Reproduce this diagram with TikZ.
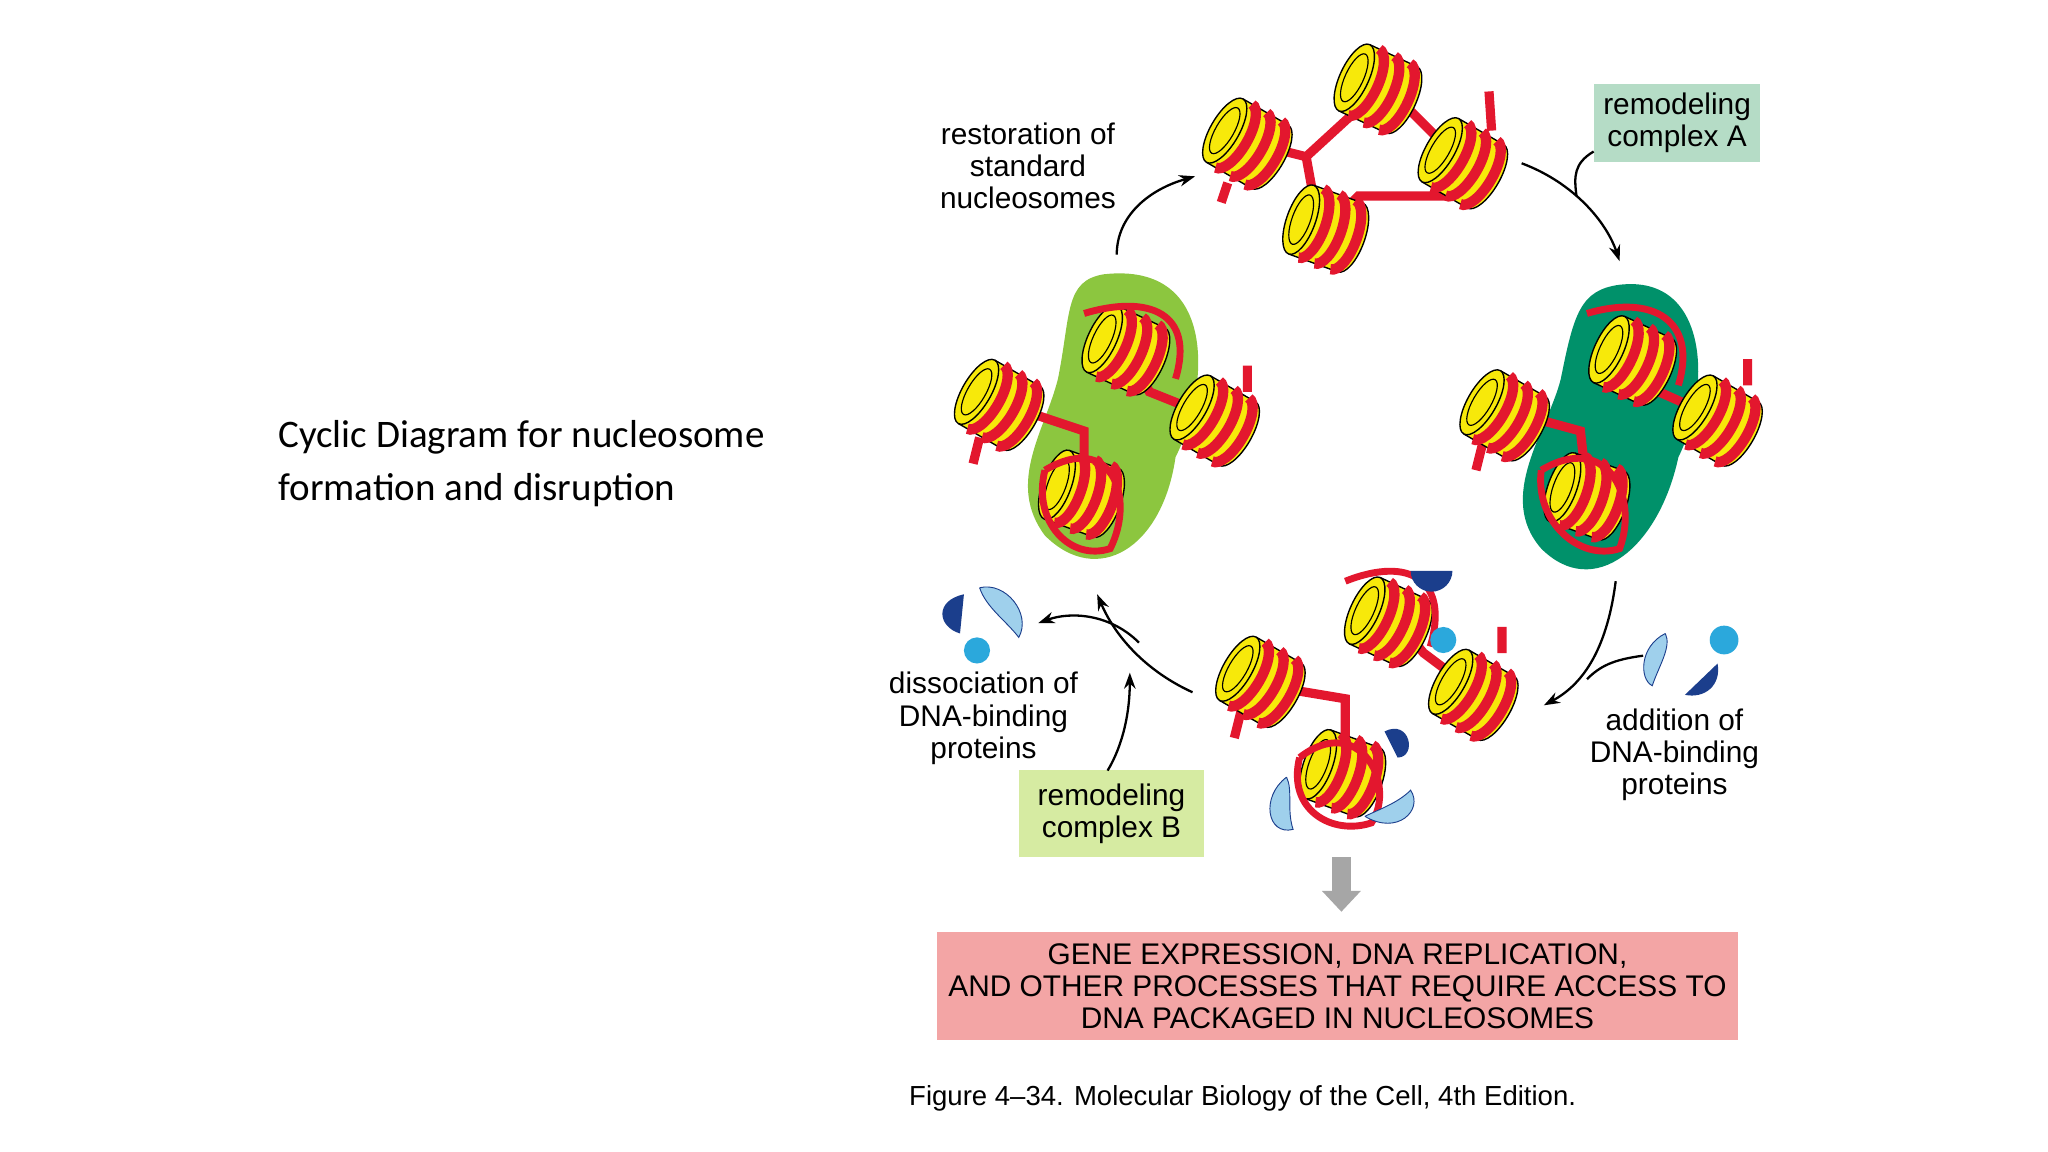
\documentclass[tikz,border=0pt]{standalone}
\usepackage{fontspec}
\setmainfont{Liberation Sans}
\newfontfamily\calib{Carlito}
\usetikzlibrary{arrows.meta}
\definecolor{nucY}{HTML}{F7E90A}
\definecolor{dnaR}{HTML}{E3172E}
\definecolor{lgreen}{HTML}{8CC63F}
\definecolor{dgreen}{HTML}{00916A}
\definecolor{boxA}{HTML}{B5DCC6}
\definecolor{boxB}{HTML}{D6EBA2}
\definecolor{boxP}{HTML}{F3A5A5}
\definecolor{pdark}{HTML}{1B3E8C}
\definecolor{plight}{HTML}{9FD0EC}
\definecolor{pmid}{HTML}{2BA8DC}
\tikzset{
  lbl/.style={align=center,font=\fontsize{13}{14}\selectfont,inner sep=1pt},
  cyc/.style={-{Stealth[length=7pt,width=5pt]},line width=1pt},
  dna/.style={draw=dnaR,line width=4pt},
  nuc/.pic={
    \fill[nucY,draw=black,line width=0.6pt] (20,0) ellipse[x radius=11,y radius=28];
    \fill[nucY] (-20,-28) rectangle (20,28);
    \draw[line width=0.6pt] (-20,28)--(20,28) (-20,-28)--(20,-28);
    \fill[nucY,draw=black,line width=0.6pt] (-20,0) ellipse[x radius=11,y radius=28];
    \draw[line width=0.5pt] (-20,0) ellipse[x radius=7,y radius=20];
    \foreach \x in {-12,1,14}{\draw[dna,line width=4.5pt] (\x,28) arc[start angle=90,end angle=-90,x radius=11,y radius=28];}
  }
}
\begin{document}
\begin{tikzpicture}[x=0.02cm,y=-0.02cm]
\useasboundingbox (0,0) rectangle (1568,882);
\fill[white] (0,0) rectangle (1568,882);
\node[anchor=west,align=left,font=\calib\fontsize{17}{23}\selectfont] (title) at (207,355) {Cyclic Diagram for nucleosome\\formation and disruption};
% blobs
\fill[lgreen] (845,210) .. controls (935,200) and (925,300) .. (900,350) .. controls (890,420) and (840,450) .. (800,410) .. controls (770,370) and (800,330) .. (810,290) .. controls (820,240) and (815,215) .. (845,210);
\fill[dgreen] (1240,218) .. controls (1310,210) and (1310,300) .. (1285,350) .. controls (1270,420) and (1220,460) .. (1180,420) .. controls (1145,380) and (1185,330) .. (1195,290) .. controls (1205,240) and (1210,222) .. (1240,218);
% linker DNA
\draw[dna] (1010,175)--(1000,120)--(1060,65) (1000,120)--(960,110) (1060,65)--(1090,95)--(1120,125) (1015,175)--(1040,150)--(1110,150) (935,155)--(940,140) (1140,70)--(1142,100);
\draw[dna] (770,310)--(830,330)--(830,380) (860,260)--(880,300)--(930,320) (745,355)--(750,335) (955,280)--(955,300);
\draw[dna] (1155,315)--(1210,330)--(1215,375) (1250,270)--(1270,300)--(1315,320) (1130,360)--(1135,340) (1338,275)--(1338,295);
\draw[dna] (970,525)--(1030,535)--(1030,590) (1065,470)--(1090,500)--(1130,530) (945,565)--(950,545) (1150,480)--(1150,500);
% nucleosomes
\foreach \p/\r [count=\i] in {{(955,110)}/-30,{(1055,68)}/-25,{(1120,125)}/-30,{(1015,175)}/-20,
  {(765,310)}/-30,{(862,268)}/-25,{(930,322)}/-30,{(828,378)}/-20,
  {(1152,318)}/-30,{(1250,276)}/-25,{(1315,322)}/-30,{(1215,380)}/-20,
  {(965,522)}/-30,{(1063,476)}/-25,{(1128,532)}/-30,{(1028,592)}/-20}
  {\pic[rotate=\r] (n\i) at \p {nuc};}
% loose DNA loops over remodeled ones
\draw[dna,line width=3pt] (830,240) .. controls (880,225) and (915,240) .. (900,290);
\draw[dna,line width=3pt] (800,360) .. controls (850,330) and (870,380) .. (850,420) .. controls (820,430) and (790,400) .. (800,360);
\draw[dna,line width=3pt] (1215,240) .. controls (1265,225) and (1300,245) .. (1285,295);
\draw[dna,line width=3pt] (1180,360) .. controls (1230,330) and (1255,380) .. (1240,420) .. controls (1210,430) and (1175,400) .. (1180,360);
\draw[dna,line width=3pt] (1030,445) .. controls (1080,425) and (1110,445) .. (1095,495);
\draw[dna,line width=3pt] (995,580) .. controls (1040,545) and (1070,600) .. (1050,630) .. controls (1020,640) and (985,620) .. (995,580);
% proteins
\fill[pdark] (1080,437) arc[start angle=180,end angle=0,radius=16] -- cycle;
\fill[pmid] (1105,490) circle (10);
\fill[pdark] (1060,560) .. controls (1080,550) and (1085,580) .. (1070,580) -- cycle;
\fill[plight,draw=pdark,line width=0.4pt] (985,595) .. controls (965,610) and (970,640) .. (990,635) .. controls (985,620) and (990,605) .. (985,595);
\fill[plight,draw=pdark,line width=0.4pt] (1045,625) .. controls (1070,640) and (1090,620) .. (1080,605) .. controls (1070,615) and (1055,620) .. (1045,625);
\fill[pdark] (738,455) .. controls (715,460) and (718,480) .. (735,485) -- cycle;
\fill[plight,draw=pdark,line width=0.4pt] (750,450) .. controls (770,445) and (790,470) .. (780,488) .. controls (770,475) and (755,465) .. (750,450);
\fill[pmid] (748,498) circle (10);
\fill[plight,draw=pdark,line width=0.4pt] (1275,485) .. controls (1255,495) and (1255,520) .. (1265,525) .. controls (1270,510) and (1280,495) .. (1275,485);
\fill[pmid] (1320,490) circle (11);
\fill[pdark] (1290,532) -- (1315,508) .. controls (1318,525) and (1305,535) .. (1290,532);
% labels
\node[lbl] (restore) at (787,127) {restoration of\\standard\\nucleosomes};
\node[lbl,fill=boxA,inner xsep=4pt,inner ysep=4pt] (remA) at (1284,94) {remodeling\\complex A};
\node[lbl] (addp) at (1282,578) {addition of\\DNA-binding\\proteins};
\node[lbl] (dissp) at (753,550) {dissociation of\\DNA-binding\\proteins};
\node[lbl,fill=boxB,inner xsep=8pt,inner ysep=6pt] (remB) at (851,623) {remodeling\\complex B};
\node[lbl,fill=boxP,minimum width=12.26cm,minimum height=1.66cm] (proc) at (1024,755) {GENE EXPRESSION, DNA REPLICATION,\\AND OTHER PROCESSES THAT REQUIRE ACCESS TO\\DNA PACKAGED IN NUCLEOSOMES};
\node[lbl,anchor=west,font=\fontsize{12}{14}\selectfont] (cap) at (694,841) {Figure 4--34. Molecular Biology of the Cell, 4th Edition.};
% arrows
\coordinate (r1) at (855,195); \coordinate (r2) at (915,135);
\draw[cyc] (r1) .. controls (855,165) and (880,145) .. (r2);
\coordinate (a1) at (1165,125); \coordinate (a2) at (1240,200);
\draw[cyc] (a1) .. controls (1205,140) and (1230,170) .. (a2);
\draw[line width=1pt] (remA.west) ++(0,22) .. controls (1205,125) and (1205,135) .. (1207,150);
\coordinate (b1) at (1237,445); \coordinate (b2) at (1182,540);
\draw[cyc] (b1) .. controls (1230,500) and (1210,525) .. (b2);
\draw[line width=1pt] (1258,502) .. controls (1235,505) and (1225,510) .. (1215,520);
\coordinate (c1) at (913,530); \coordinate (c2) at (840,455);
\draw[cyc] (c1) .. controls (880,515) and (855,490) .. (c2);
\draw[cyc] (872,492) .. controls (850,470) and (820,468) .. (795,477);
\draw[cyc] (848,590) .. controls (860,570) and (865,545) .. (865,515);
\fill[gray!70] (1020,656) rectangle (1034,682);
\fill[gray!70] (1012,682) -- (1042,682) -- (1027,698) -- cycle;
\end{tikzpicture}
\end{document}
